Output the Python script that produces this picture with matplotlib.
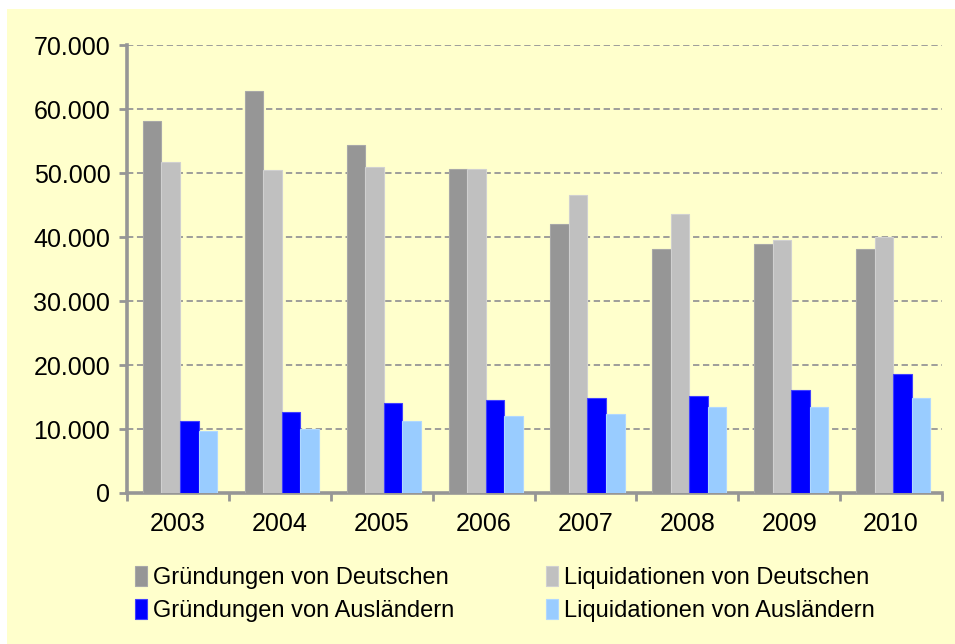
import numpy as np
import matplotlib.pyplot as plt
from matplotlib.patches import Rectangle
from matplotlib.ticker import FuncFormatter, FixedLocator

plt.rcParams['font.family'] = ['Liberation Sans', 'DejaVu Sans']

years = ['2003', '2004', '2005', '2006', '2007', '2008', '2009', '2010']
gruend_de = [58200, 62800, 54400, 50600, 42100, 38100, 39000, 38100]
liquid_de = [51700, 50500, 51000, 50600, 46600, 43700, 39600, 40000]
gruend_aus = [11200, 12700, 14000, 14600, 14900, 15200, 16100, 18600]
liquid_aus = [9700, 9950, 11200, 12100, 12400, 13400, 13400, 14900]

series = [
    ('Gründungen von Deutschen', gruend_de, '#969696', '#a8a8a8'),
    ('Liquidationen von Deutschen', liquid_de, '#c0c0c0', '#d0d0d0'),
    ('Gründungen von Ausländern', gruend_aus, '#0000ff', '#4040ff'),
    ('Liquidationen von Ausländern', liquid_aus, '#99ccff', '#b0d8ff'),
]

grey = '#969696'
fontsize = 18

fig = plt.figure(figsize=(9.55, 6.44), dpi=100, facecolor='white')
# yellow chart area (slightly cut at the top like the source)
bg = Rectangle((7/955, 0), 1, 1 - 9/644, transform=fig.transFigure,
               facecolor='#ffffcc', edgecolor='none', zorder=-5)
fig.add_artist(bg)

ax = fig.add_axes([127/955, 1 - 493/644, (942-127)/955, (493-45.3)/644])
ax.set_facecolor('none')

x = np.arange(len(years))
width = 0.182
handles = []
for i, (name, vals, col, edge) in enumerate(series):
    b = ax.bar(x + (i - 1.5) * width + 0.02, vals, width, color=col,
               edgecolor=edge, linewidth=0.8, label=name, zorder=3)
    handles.append(b)

ax.set_xlim(-0.5, len(years) - 0.5)
ax.set_ylim(0, 70000)
ax.set_yticks(np.arange(0, 70001, 10000))
ax.yaxis.set_major_formatter(FuncFormatter(lambda v, p: f'{int(v):,}'.replace(',', '.')))
ax.grid(axis='y', color=grey, linestyle=(0, (3.5, 2)), linewidth=1.3, zorder=1)

ax.xaxis.set_major_locator(FixedLocator(np.arange(-0.5, len(years), 1.0)))
ax.xaxis.set_minor_locator(FixedLocator(x))
ax.set_xticklabels([], minor=False)
ax.set_xticklabels(years, minor=True)
ax.tick_params(axis='x', which='major', length=6, width=2, color=grey, direction='out')
ax.tick_params(axis='x', which='minor', length=0, pad=14, labelsize=fontsize)
ax.tick_params(axis='y', length=6, width=2, color=grey, labelsize=fontsize, pad=6)

for s in ['top', 'right']:
    ax.spines[s].set_visible(False)
for s in ['left', 'bottom']:
    ax.spines[s].set_color(grey)
    ax.spines[s].set_linewidth(2.6)

order = [handles[0], handles[2], handles[1], handles[3]]
fig.legend(order, [h.get_label() for h in order], ncol=2, frameon=False,
           loc='center left', bbox_to_anchor=(126/955, 1 - 594/644),
           fontsize=17, handlelength=0.5, handleheight=0.95,
           handletextpad=0.25, columnspacing=3.9, labelspacing=0.4,
           borderaxespad=0)

fig.savefig('out.png', dpi=100, facecolor='white')
